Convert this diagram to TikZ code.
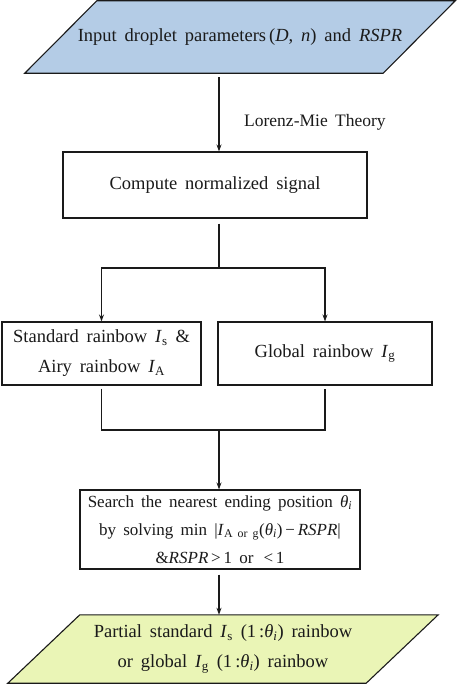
\documentclass[tikz,border=0pt]{standalone}
\usepackage{fontspec}
\setmainfont[WordSpace=1.7]{Liberation Serif}
\usepackage{tikz}
\usetikzlibrary{arrows.meta,positioning,calc,backgrounds}
\definecolor{inblue}{HTML}{B4CCE6}
\definecolor{outgreen}{HTML}{EAF5B6}
\definecolor{ink}{HTML}{1A1A1A}
\newcommand{\sub}[1]{\textsubscript{#1}}
\newcommand{\thi}{\textit{θ}\sub{\textit{i}}}
\tikzset{
  >={Stealth[length=7pt,width=5pt]},
  every node/.style={font=\fontsize{18.5}{30}\selectfont,text=ink},
  box/.style={draw=ink,line width=1.1pt,fill=white,align=center,inner sep=2pt},
  iobox/.style={align=center,inner sep=0pt,minimum width=358pt},
  outline/.style={draw=ink,line width=1.1pt,line join=miter},
  arrow/.style={->,line width=1.1pt,draw=ink},
  link/.style={line width=1.1pt,draw=ink},
  caption/.style={anchor=west,inner sep=0pt,font=\fontsize{17.5}{30}\selectfont},
}
\begin{document}
\begin{tikzpicture}[x=1pt,y=-1pt]
\useasboundingbox (0,0) rectangle (457,685);
\node[iobox,minimum height=72pt] (input) at (240,37) {Input droplet parameters\,(\textit{D},~\textit{n})~and \textit{RSPR}};
\node[box,minimum width=304pt,minimum height=66pt] (sig) at (215,185) {Compute normalized signal};
\node[box,minimum width=199pt,minimum height=63pt] (std) at (101.5,353.5) {Standard rainbow \textit{I}\sub{s} \&\\Airy rainbow \textit{I}\sub{A}};
\node[box,minimum width=214pt,minimum height=63pt] (glob) at (325,353.5) {Global rainbow \textit{I}\sub{g}};
\node[box,minimum width=280pt,minimum height=79pt,font=\fontsize{17}{28}\selectfont] (srch) at (220,529.5) {Search the nearest ending position \thi\\by solving min |\textit{I}\sub{A or g}(\thi)\,−\,\textit{RSPR}|\\\&\textit{RSPR}\,>\,1 or \,<\,1};
\node[iobox,minimum height=68pt] (out) at (223,649) {Partial standard \textit{I}\sub{s} (1\,:\thi) rainbow\\or global \textit{I}\sub{g} (1\,:\thi) rainbow};
\coordinate (fork) at (219,268);
\coordinate (join) at (219,430);
\node[caption] (lm) at (244,122) {Lorenz-Mie Theory};
% slanted input / output shapes
\begin{scope}[on background layer]
\path[outline,fill=inblue] ($(input.south west)+(-36,0)$) -- ($(input.south east)+(-36,0)$)
  -- ($(input.north east)+(36,0)$) -- ($(input.north west)+(36,0)$) -- cycle;
\path[outline,fill=outgreen] ($(out.south west)+(-36,0)$) -- ($(out.south east)+(-36,0)$)
  -- ($(out.north east)+(36,0)$) -- ($(out.north west)+(36,0)$) -- cycle;
\end{scope}
% connectors
\draw[arrow,shorten <=4pt] (input.south -| fork) -- (sig.north -| fork);
\draw[link,shorten <=5pt] (sig.south -| fork) -- (fork);
\draw[arrow] (fork) -| (std.north);
\draw[arrow] (fork) -| (glob.north);
\draw[link,shorten <=3pt,shorten >=3pt] (std.south) |- (join) -| (glob.south);
\draw[arrow] (join) -- (srch.north -| join);
\draw[arrow,shorten <=5pt] (srch.south -| join) -- (out.north -| join);
\end{tikzpicture}
\end{document}
